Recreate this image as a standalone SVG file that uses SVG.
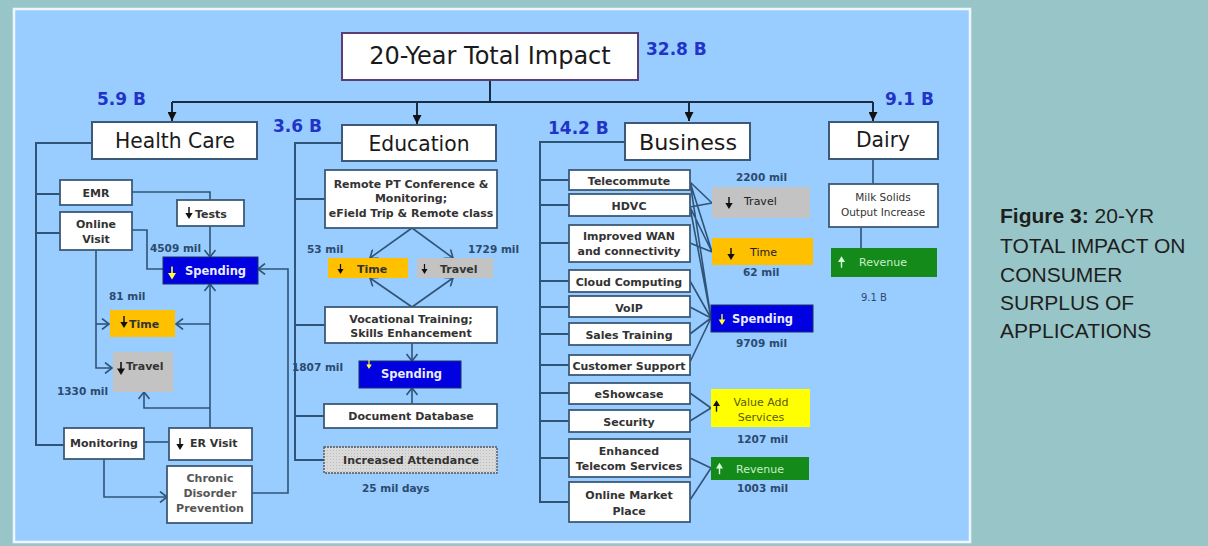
<svg xmlns="http://www.w3.org/2000/svg" width="1208" height="546" viewBox="0 0 1208 546">
<style>
.box{fill:#ffffff;stroke:#3c5a78;stroke-width:1.8}
.hbox{fill:#ffffff;stroke:#3c5a78;stroke-width:2}
.ln{fill:none;stroke:#2f5478;stroke-width:2}
.ln2{fill:none;stroke:#2f5478;stroke-width:1.6}
.top{fill:none;stroke:#1c2c40;stroke-width:2}
.hdr{font-family:"DejaVu Sans",sans-serif;font-size:21px;fill:#1a1a1a;text-anchor:middle}
.bx{font-family:"DejaVu Sans",sans-serif;font-size:11px;font-weight:bold;fill:#333333;text-anchor:middle}
.bxl{font-family:"DejaVu Sans",sans-serif;font-size:11px;font-weight:bold;fill:#555555;text-anchor:middle}
.lbl{font-family:"DejaVu Sans",sans-serif;font-size:11px;font-weight:bold;fill:#333333}
.lbr{font-family:"DejaVu Sans",sans-serif;font-size:11px;fill:#222222}
.num{font-family:"DejaVu Sans",sans-serif;font-size:10.5px;font-weight:bold;fill:#2b4a6f}
.big{font-family:"DejaVu Sans",sans-serif;font-size:17px;font-weight:bold;fill:#1f35c8}
.wt{font-family:"DejaVu Sans",sans-serif;font-size:11.5px;font-weight:bold;fill:#e8ecff}
.cap{font-family:"Liberation Sans",Arial,sans-serif;font-size:21px;fill:#1e1e1e}
</style>
<defs>
<marker id="tri" markerUnits="userSpaceOnUse" markerWidth="9" markerHeight="9" viewBox="0 0 10 10" refX="10" refY="5" orient="auto"><path d="M0,0 L10,5 L0,10 z" fill="#111111"/></marker>
<marker id="chev" markerUnits="userSpaceOnUse" markerWidth="12" markerHeight="12" viewBox="0 0 12 12" refX="11" refY="6" orient="auto"><path d="M4,0.5 L11,6 L4,11.5" fill="none" stroke="#2f5478" stroke-width="1.6"/></marker>
<symbol id="dn" viewBox="0 0 8 13"><path d="M4,0 V8" stroke="currentColor" stroke-width="1.6" fill="none"/><path d="M0,6.5 L8,6.5 L4,13 z" fill="currentColor"/></symbol>
<symbol id="up" viewBox="0 0 8 13"><path d="M4,5 V13" stroke="currentColor" stroke-width="1.6" fill="none"/><path d="M0,6.5 L8,6.5 L4,0 z" fill="currentColor"/></symbol>
<pattern id="dots" width="3" height="3" patternUnits="userSpaceOnUse"><rect width="3" height="3" fill="#dadada"/><rect width="1" height="1" fill="#bcbcbc"/></pattern>
</defs>
<rect x="0" y="0" width="1208" height="546" fill="#98c6c8"/>
<rect x="14" y="9" width="956" height="533" fill="#99ccff" stroke="#eef7ff" stroke-width="2.5"/>

<g id="connectors">
<path class="top" d="M490,80 V102 M172,102 H873"/>
<path class="top" d="M172,102 V121" marker-end="url(#tri)"/>
<path class="top" d="M417,102 V124" marker-end="url(#tri)"/>
<path class="top" d="M689,102 V121" marker-end="url(#tri)"/>
<path class="top" d="M873,102 V121" marker-end="url(#tri)"/>
<path class="ln" d="M92,143 H36 V445 H64 M36,194 H60 M36,233 H60"/>
<path class="ln2" d="M132,192 H210 V200"/>
<path class="ln2" d="M210,226 V257" marker-end="url(#chev)"/>
<path class="ln2" d="M132,230 H147 V269 H163"/>
<path class="ln2" d="M96,250 V368 H112" marker-end="url(#chev)"/>
<path class="ln2" d="M96,324 H109" marker-end="url(#chev)"/>
<path class="ln2" d="M210,428 V284" marker-end="url(#chev)"/>
<path class="ln2" d="M210,324 H176" marker-end="url(#chev)"/>
<path class="ln2" d="M210,408 H144 V392" marker-end="url(#chev)"/>
<path class="ln2" d="M144,442 H169"/>
<path class="ln2" d="M104,459 V497 H167" marker-end="url(#chev)"/>
<path class="ln2" d="M252,493 H288 V269 H258" marker-end="url(#chev)"/>
<path class="ln" d="M342,143 H295 V460 H324 M295,199 H325 M295,325 H325 M295,416 H324"/>
<path class="ln2" d="M412,228 L370,258" marker-end="url(#chev)"/>
<path class="ln2" d="M412,228 L453,258" marker-end="url(#chev)"/>
<path class="ln2" d="M412,307 L370,278" marker-end="url(#chev)"/>
<path class="ln2" d="M412,307 L453,278" marker-end="url(#chev)"/>
<path class="ln2" d="M412,343 V361" marker-end="url(#chev)"/>
<path class="ln2" d="M412,404 V388" marker-end="url(#chev)"/>
<path class="ln" d="M625,142 H540 V502 H569 M540,180 H569 M540,205 H569 M540,243 H569 M540,281 H569 M540,307 H569 M540,334 H569 M540,365 H569 M540,393 H569 M540,421 H569 M540,458 H569"/>
<path class="ln2" d="M690,182 L712,203 M690,207 L712,203 M690,182 L712,252 M690,207 L712,252 M690,243 L712,252 M690,182 L711,318 M690,207 L711,318 M690,281 L711,318 M690,307 L711,318 M690,334 L711,318 M690,362 L711,318 M690,393 L711,408 M690,421 L711,408 M690,458 L711,468 M690,500 L711,468"/>
<path class="ln2" d="M873,160 V184 M861,227 V248"/>
</g>

<g id="title">
<rect x="342" y="33" width="296" height="47" fill="#ffffff" stroke="#5b3f74" stroke-width="2"/>
<text x="490" y="64" font-family="DejaVu Sans, sans-serif" font-size="24" fill="#1a1a1a" text-anchor="middle">20-Year Total Impact</text>
<text class="big" x="646" y="55">32.8 B</text>
</g>

<g id="health-care">
<rect class="hbox" x="92" y="122" width="165" height="37"/>
<text class="hdr" x="175" y="148" textLength="120" lengthAdjust="spacingAndGlyphs">Health Care</text>
<text class="big" x="97" y="105">5.9 B</text>
</g>
<g id="emr"><rect class="box" x="60" y="180" width="72" height="25"/><text class="bx" x="96" y="197">EMR</text></g>
<g id="online-visit"><rect class="box" x="60" y="212" width="72" height="38"/><text class="bx" x="96" y="228">Online</text><text class="bx" x="96" y="243">Visit</text></g>
<g id="hc-tests"><rect class="box" x="177" y="200" width="67" height="26"/><use href="#dn" x="185" y="207" width="8" height="12" color="#111111"/><text class="lbl" x="195" y="218">Tests</text></g>
<g id="hc-spending"><rect x="163" y="257" width="95" height="27" fill="#0000e0" stroke="#1a3070" stroke-width="1"/><use href="#dn" x="168" y="264" width="8" height="18" color="#ffff33"/><text class="wt" x="185" y="275">Spending</text><text class="num" x="150" y="252">4509 mil</text></g>
<g id="hc-time"><rect x="110" y="310" width="65" height="27" fill="#ffc000"/><use href="#dn" x="120" y="316" width="8" height="12" color="#111111"/><text class="lbl" x="129" y="328">Time</text><text class="num" x="109" y="300">81 mil</text></g>
<g id="hc-travel"><rect x="113" y="352" width="60" height="40" fill="#c3c3c3"/><use href="#dn" x="117" y="362" width="8" height="13" color="#111111"/><text class="lbl" x="126" y="370">Travel</text><text class="num" x="57" y="395">1330 mil</text></g>
<g id="monitoring"><rect class="box" x="64" y="428" width="80" height="31"/><text class="bx" x="104" y="447">Monitoring</text></g>
<g id="er-visit"><rect class="box" x="169" y="428" width="83" height="32"/><use href="#dn" x="176" y="438" width="8" height="12" color="#111111"/><text class="lbl" x="190" y="447">ER Visit</text></g>
<g id="chronic"><rect class="box" x="167" y="466" width="85" height="57"/><text class="bxl" x="210" y="482">Chronic</text><text class="bxl" x="210" y="497">Disorder</text><text class="bxl" x="210" y="512">Prevention</text></g>

<g id="education">
<rect class="hbox" x="342" y="125" width="154" height="36"/>
<text class="hdr" x="419" y="151" textLength="101" lengthAdjust="spacingAndGlyphs">Education</text>
<text class="big" x="273" y="132">3.6 B</text>
</g>
<g id="remote-pt"><rect class="box" x="325" y="170" width="172" height="58"/><text class="bx" x="411" y="188">Remote PT Conference &amp;</text><text class="bx" x="411" y="202">Monitoring;</text><text class="bx" x="411" y="217">eField Trip &amp; Remote class</text></g>
<g id="edu-time"><rect x="328" y="258" width="80" height="20" fill="#ffc000"/><use href="#dn" x="337" y="264" width="7" height="10" color="#111111"/><text class="lbl" x="357" y="273">Time</text><text class="num" x="307" y="253">53 mil</text></g>
<g id="edu-travel"><rect x="417" y="258" width="76" height="20" fill="#c3c3c3"/><use href="#dn" x="421" y="264" width="7" height="10" color="#111111"/><text class="lbl" x="440" y="273">Travel</text><text class="num" x="468" y="253">1729 mil</text></g>
<g id="vocational"><rect class="box" x="325" y="307" width="172" height="36"/><text class="bx" x="411" y="323">Vocational Training;</text><text class="bx" x="411" y="337">Skills Enhancement</text></g>
<g id="edu-spending"><rect x="359" y="361" width="102" height="27" fill="#0000e0" stroke="#1a3070" stroke-width="1"/><use href="#dn" x="366" y="360" width="6" height="9" color="#ffff33"/><text class="wt" x="381" y="378">Spending</text><text class="num" x="292" y="371">1807 mil</text></g>
<g id="document-database"><rect class="box" x="324" y="404" width="173" height="24"/><text class="bx" x="411" y="420">Document Database</text></g>
<g id="increased-attendance"><rect x="324" y="447" width="173" height="26" fill="url(#dots)" stroke="#555555" stroke-width="1.4" stroke-dasharray="2,1"/><text class="bx" x="411" y="464">Increased Attendance</text><text class="num" x="362" y="492">25 mil days</text></g>

<g id="business">
<rect class="hbox" x="625" y="123" width="125" height="37"/>
<text class="hdr" x="688" y="150" textLength="98" lengthAdjust="spacingAndGlyphs">Business</text>
<text class="big" x="548" y="134">14.2 B</text>
</g>
<g id="telecommute"><rect class="box" x="569" y="170" width="121" height="20"/><text class="bx" x="629" y="185">Telecommute</text></g>
<g id="hdvc"><rect class="box" x="569" y="194" width="121" height="22"/><text class="bx" x="629" y="210">HDVC</text></g>
<g id="improved-wan"><rect class="box" x="569" y="225" width="121" height="37"/><text class="bx" x="629" y="240">Improved WAN</text><text class="bx" x="629" y="255">and connectivity</text></g>
<g id="cloud-computing"><rect class="box" x="569" y="270" width="121" height="22"/><text class="bx" x="629" y="286">Cloud Computing</text></g>
<g id="voip"><rect class="box" x="569" y="296" width="121" height="21"/><text class="bx" x="629" y="312">VoIP</text></g>
<g id="sales-training"><rect class="box" x="569" y="323" width="121" height="22"/><text class="bx" x="629" y="339">Sales Training</text></g>
<g id="customer-support"><rect class="box" x="569" y="355" width="121" height="20"/><text class="bx" x="629" y="370">Customer Support</text></g>
<g id="eshowcase"><rect class="box" x="569" y="383" width="121" height="21"/><text class="bx" x="629" y="398">eShowcase</text></g>
<g id="security"><rect class="box" x="569" y="410" width="121" height="22"/><text class="bx" x="629" y="426">Security</text></g>
<g id="enhanced-telecom"><rect class="box" x="569" y="439" width="121" height="38"/><text class="bx" x="629" y="455">Enhanced</text><text class="bx" x="629" y="470">Telecom Services</text></g>
<g id="online-market"><rect class="box" x="569" y="482" width="121" height="40"/><text class="bx" x="629" y="499">Online Market</text><text class="bx" x="629" y="515">Place</text></g>
<g id="bus-travel"><rect x="712" y="187" width="98" height="31" fill="#c3c3c3"/><use href="#dn" x="725" y="197" width="8" height="12" color="#111111"/><text class="lbr" x="744" y="205">Travel</text><text class="num" x="736" y="181">2200 mil</text></g>
<g id="bus-time"><rect x="712" y="238" width="101" height="27" fill="#ffc000"/><use href="#dn" x="727" y="248" width="8" height="12" color="#111111"/><text class="lbr" x="750" y="256">Time</text><text class="num" x="743" y="276">62 mil</text></g>
<g id="bus-spending"><rect x="711" y="305" width="102" height="27" fill="#0000e0" stroke="#1a3070" stroke-width="1"/><use href="#dn" x="718" y="314" width="8" height="11" color="#ffff33"/><text class="wt" x="732" y="323">Spending</text><text class="num" x="736" y="347">9709 mil</text></g>
<g id="value-add"><rect x="711" y="389" width="99" height="38" fill="#ffff00"/><use href="#up" x="713" y="393" width="7" height="26" color="#111111"/><text x="761" y="406" font-family="DejaVu Sans, sans-serif" font-size="11" fill="#5a5a10" text-anchor="middle">Value Add</text><text x="761" y="421" font-family="DejaVu Sans, sans-serif" font-size="11" fill="#5a5a10" text-anchor="middle">Services</text><text class="num" x="737" y="443">1207 mil</text></g>
<g id="bus-revenue"><rect x="711" y="457" width="98" height="23" fill="#138a1a"/><use href="#up" x="716" y="462" width="7" height="13" color="#d8ffd8"/><text x="760" y="473" font-family="DejaVu Sans, sans-serif" font-size="11" fill="#c8f0c8" text-anchor="middle">Revenue</text><text class="num" x="737" y="492">1003 mil</text></g>

<g id="dairy">
<rect class="hbox" x="829" y="122" width="109" height="37"/>
<text class="hdr" x="883" y="147" textLength="54" lengthAdjust="spacingAndGlyphs">Dairy</text>
<text class="big" x="885" y="105">9.1 B</text>
</g>
<g id="milk-solids"><rect class="box" x="829" y="184" width="109" height="43"/><text x="883" y="201" font-family="DejaVu Sans, sans-serif" font-size="10.5" fill="#333" text-anchor="middle">Milk Solids</text><text x="883" y="216" font-family="DejaVu Sans, sans-serif" font-size="10.5" fill="#333" text-anchor="middle">Output Increase</text></g>
<g id="dairy-revenue"><rect x="831" y="248" width="106" height="29" fill="#138a1a"/><use href="#up" x="838" y="256" width="7" height="12" color="#d8ffd8"/><text x="883" y="266" font-family="DejaVu Sans, sans-serif" font-size="11" fill="#c8f0c8" text-anchor="middle">Revenue</text><text x="861" y="301" font-family="DejaVu Sans, sans-serif" font-size="10" fill="#2b4a6f">9.1 B</text></g>

<g id="caption">
<text class="cap" x="1000" y="223"><tspan font-weight="bold">Figure 3:</tspan> 20-YR</text>
<text class="cap" x="1000" y="253">TOTAL IMPACT ON</text>
<text class="cap" x="1000" y="282">CONSUMER</text>
<text class="cap" x="1000" y="310">SURPLUS OF</text>
<text class="cap" x="1000" y="338">APPLICATIONS</text>
</g>
</svg>
